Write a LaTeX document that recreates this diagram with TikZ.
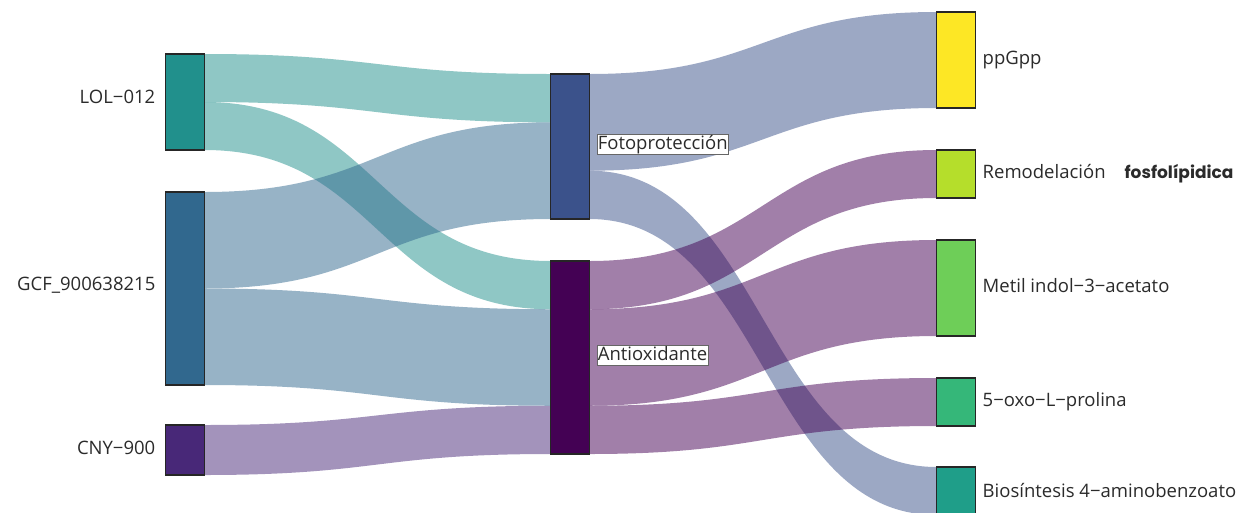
\documentclass[tikz,border=0pt]{standalone}
\usepackage{fontspec}
\setmainfont{Open Sans}
\newfontfamily\geofont{Poppins}
\usetikzlibrary{calc}
\definecolor{cLOL}{HTML}{21908C}
\definecolor{cGCF}{HTML}{31688E}
\definecolor{cCNY}{HTML}{482878}
\definecolor{cFOTO}{HTML}{3B528B}
\definecolor{cANTI}{HTML}{440154}
\definecolor{cPPG}{HTML}{FDE725}
\definecolor{cREM}{HTML}{B5DE2B}
\definecolor{cMET}{HTML}{6ECE58}
\definecolor{cOXO}{HTML}{35B779}
\definecolor{cBIO}{HTML}{1F9E89}
\definecolor{txt}{HTML}{2B2B2B}
\newcommand\ribbon[7]{%
  \path[fill=#7, fill opacity=0.5]
    let \p1=($(#1.north east)!#2!(#1.south east)$),
        \p2=($(#1.north east)!#3!(#1.south east)$),
        \p3=($(#4.north west)!#5!(#4.south west)$),
        \p4=($(#4.north west)!#6!(#4.south west)$),
        \n1={(\x1+\x3)/2} in
    (\p1) .. controls (\n1,\y1) and (\n1,\y3) .. (\p3)
    -- (\p4) .. controls (\n1,\y4) and (\n1,\y2) .. (\p2) -- cycle;}
\begin{document}
\begin{tikzpicture}[x=1pt,y=-1pt,
  bar/.style={draw=black!85, line width=1.2pt, inner sep=0pt, outer sep=0pt, minimum width=39pt},
  lbl/.style={text=txt, font=\fontsize{18.5}{20}\selectfont, inner sep=0pt},
  mlbl/.style={text=txt, font=\fontsize{18.5}{20}\selectfont, fill=white, draw=black!60, line width=0.6pt, inner sep=1pt, text height=13.5pt, text depth=4pt}]
\path[use as bounding box, clip] (0,0) rectangle (1244,512);
\fill[white] (0,0) rectangle (1244,512);
% left nodes
\node[bar, fill=cLOL, minimum height=96pt] (lol) at (185,102) {};
\node[bar, fill=cGCF, minimum height=193pt] (gcf) at (185,288.5) {};
\node[bar, fill=cCNY, minimum height=50pt] (cny) at (185,450) {};
% middle nodes
\node[bar, fill=cFOTO, minimum height=145pt] (foto) at (570,146.5) {};
\node[bar, fill=cANTI, minimum height=193pt] (anti) at (570,357.5) {};
% right nodes
\node[bar, fill=cPPG, minimum height=96pt] (ppg) at (956,60) {};
\node[bar, fill=cREM, minimum height=48pt] (rem) at (956,174) {};
\node[bar, fill=cMET, minimum height=96pt] (met) at (956,288) {};
\node[bar, fill=cOXO, minimum height=48pt] (oxo) at (956,402) {};
\node[bar, fill=cBIO, minimum height=48pt] (bio) at (956,491) {};
% ribbons left -> middle
\ribbon{lol}{0}{0.5}{foto}{0}{0.3333}{cLOL}
\ribbon{lol}{0.5}{1}{anti}{0}{0.25}{cLOL}
\ribbon{gcf}{0}{0.5}{foto}{0.3333}{1}{cGCF}
\ribbon{gcf}{0.5}{1}{anti}{0.25}{0.75}{cGCF}
\ribbon{cny}{0}{1}{anti}{0.75}{1}{cCNY}
% ribbons middle -> right
\ribbon{foto}{0}{0.6667}{ppg}{0}{1}{cFOTO}
\ribbon{foto}{0.6667}{1}{bio}{0}{1}{cFOTO}
\ribbon{anti}{0}{0.25}{rem}{0}{1}{cANTI}
\ribbon{anti}{0.25}{0.75}{met}{0}{1}{cANTI}
\ribbon{anti}{0.75}{1}{oxo}{0}{1}{cANTI}
% redraw nodes on top
\foreach \n/\c in {lol/cLOL,gcf/cGCF,cny/cCNY,foto/cFOTO,anti/cANTI,ppg/cPPG,rem/cREM,met/cMET,oxo/cOXO,bio/cBIO}
  \draw[fill=\c, draw=black!85, line width=1.2pt] (\n.north west) rectangle (\n.south east);
% labels
\node[lbl, anchor=east] (llol) at ($(lol.west)+(-10,-5)$) {LOL−012};
\node[lbl, anchor=east] (lgcf) at ($(gcf.west)+(-10,-3)$) {GCF\_900638215};
\node[lbl, anchor=east] (lcny) at ($(cny.west)+(-10,-2)$) {CNY−900};
\node[mlbl, anchor=west] (lfoto) at ($(foto.east)+(7,-2)$) {Fotoprotección};
\node[mlbl, anchor=west] (lanti) at ($(anti.east)+(7,-2)$) {Antioxidante};
\node[lbl, anchor=west] (lppg) at ($(ppg.east)+(7,0)$) {ppGpp};
\node[lbl, anchor=west] (lrem) at ($(rem.east)+(7,0)$) {Remodelación\hspace{19pt}{\geofont\fontsize{17}{20}\selectfont\bfseries fosfolípidica}};
\node[lbl, anchor=west] (lmet) at ($(met.east)+(7,-2)$) {Metil indol−3−acetato};
\node[lbl, anchor=west] (loxo) at ($(oxo.east)+(7,0)$) {5−oxo−L−prolina};
\node[lbl, anchor=west] (lbio) at ($(bio.east)+(7,-1)$) {Biosíntesis 4−aminobenzoato};
\end{tikzpicture}
\end{document}
